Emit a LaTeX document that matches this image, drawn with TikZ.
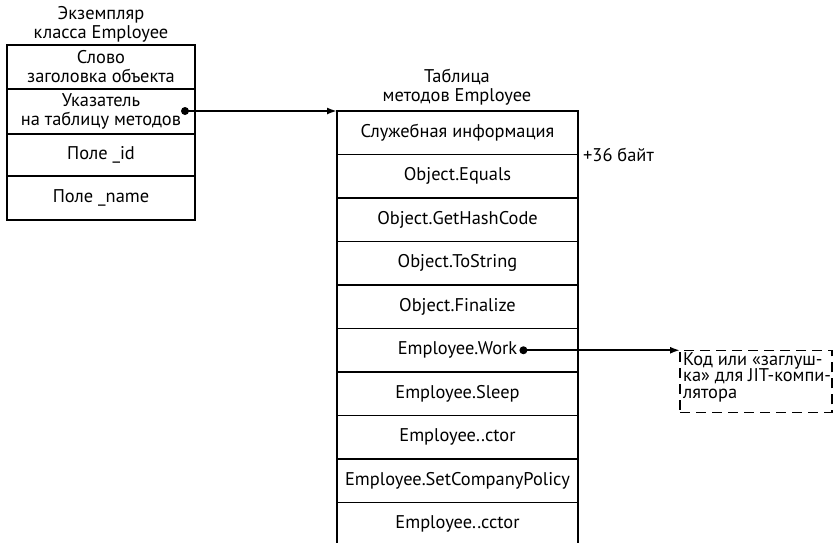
\documentclass[tikz,border=0pt]{standalone}
\usepackage{fontspec}
\setmainfont{PT Sans}
\usetikzlibrary{arrows.meta,calc}
\begin{document}
\begin{tikzpicture}[x=1pt,y=-1pt,
  font=\fontsize{18.4}{19}\selectfont,
  cell/.style={draw, line width=1.3pt, inner sep=0pt, outer sep=0pt, align=center, anchor=north west},
  objcell/.style={cell, minimum width=188pt},
  tabcell/.style={cell, minimum width=241pt, minimum height=43.5pt},
  caption/.style={align=center, inner sep=0pt},
  link/.style={line width=1.8pt, -{Latex[length=10pt,width=7pt]}},
  dot/.style={circle, fill=black, inner sep=0pt, minimum size=8pt}]
\useasboundingbox (0,0) rectangle (836,542);

% object instance
\node[caption] (objtitle) at (101,24) {Экземпляр\\класса Employee};
\node[objcell, minimum height=44pt] (hdr) at (7,45) {Слово\\заголовка объекта};
\node[objcell, minimum height=45pt] (ptr) at (hdr.south west) {Указатель\\на таблицу методов};
\node[objcell, minimum height=42pt] (fid) at (ptr.south west) {Поле \_id};
\node[objcell, minimum height=44pt] (fname) at (fid.south west) {Поле \_name};

% method table
\node[caption] (tabtitle) at (457,87) {Таблица\\методов Employee};
\node[tabcell] (r1) at (337,111) {Служебная информация};
\node[tabcell] (r2) at (r1.south west) {Object.Equals};
\node[tabcell] (r3) at (r2.south west) {Object.GetHashCode};
\node[tabcell] (r4) at (r3.south west) {Object.ToString};
\node[tabcell] (r5) at (r4.south west) {Object.Finalize};
\node[tabcell] (r6) at (r5.south west) {};
\node[inner sep=0pt] (work) at (r6.center) {Employee.Work};
\node[tabcell] (r7) at (r6.south west) {Employee.Sleep};
\node[tabcell] (r8) at (r7.south west) {Employee..ctor};
\node[tabcell] (r9) at (r8.south west) {Employee.SetCompanyPolicy};
\node[tabcell, draw=none] (r10) at (r9.south west) {Employee..cctor};
\draw[line width=1.3pt] (r9.south west) -- ++(0,48) (r9.south east) -- ++(0,48);

\node[anchor=west, inner sep=0pt] (size) at (583,155) {+36 байт};

% stub for the JIT compiler, its top edge level with the Work pointer
\node[draw, dash pattern=on 10pt off 6pt, line width=1.3pt, anchor=north west,
      minimum width=152pt, minimum height=62pt, inner sep=0pt, outer sep=0pt] (stub) at (680,350.25) {};
\node[anchor=north west, align=left, inner sep=0pt, font=\fontsize{18.4}{16.8}\selectfont]
  (stubtext) at (683,352) {Код или «заглуш-\\ка» для JIT-компи-\\лятора};

% pointers
\node[dot] (pdot) at (185,111) {};
\node[dot] (wdot) at ($(work.east)+(6,0)$) {};
\draw[link] (pdot.center) -- (r1.north west);
\draw[link] (wdot.center) -- (stub.north west);
\end{tikzpicture}
\end{document}
